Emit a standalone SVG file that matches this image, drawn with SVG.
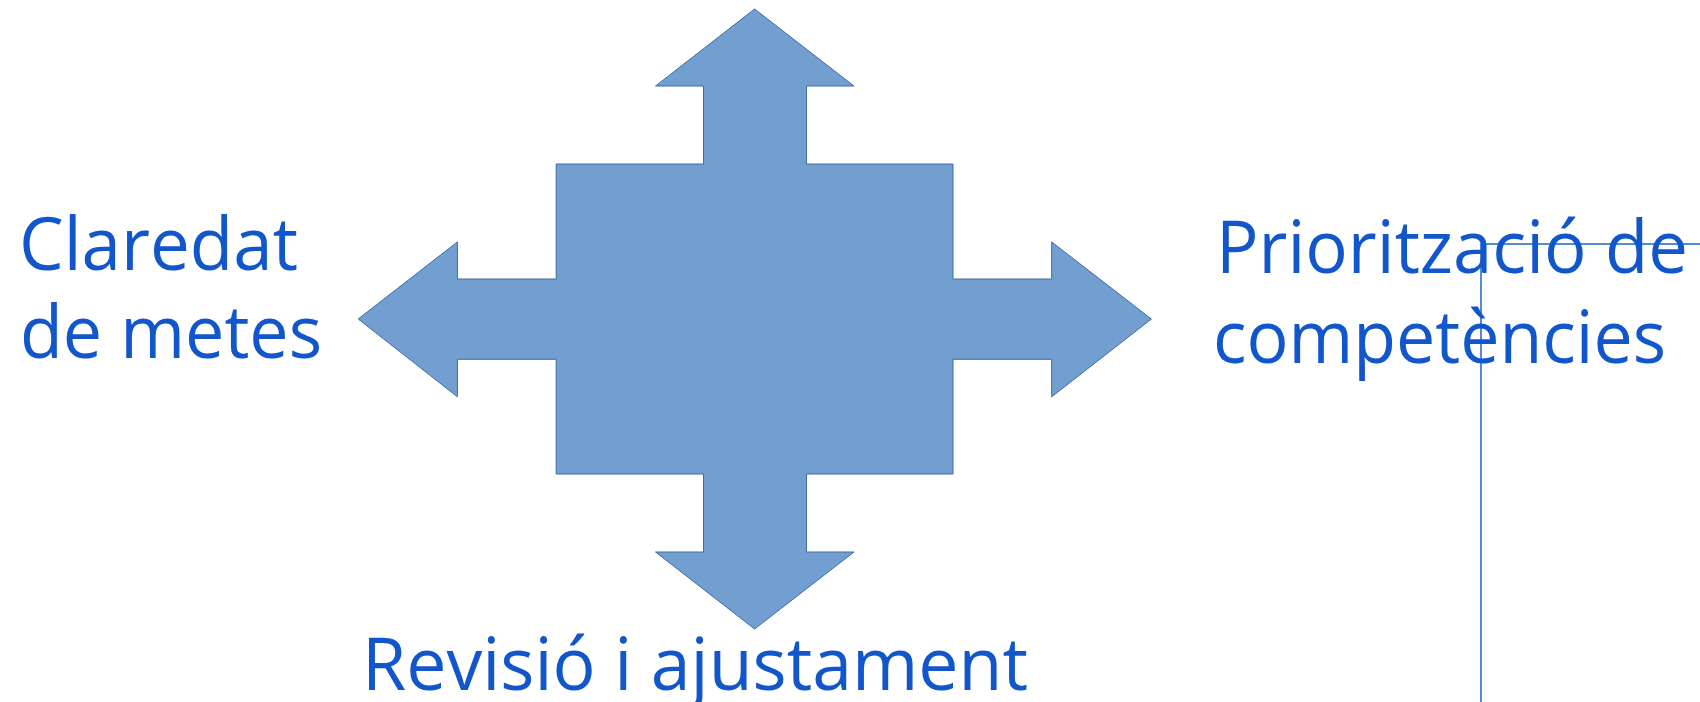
<svg xmlns="http://www.w3.org/2000/svg" width="1700" height="702" viewBox="0 0 1700 702">
  <style>
    .lbl { font-family: "Open Sans", "Liberation Sans", sans-serif; font-size: 73px; fill: #1256CC; }
    .shape { fill: #729FCF; stroke: #3F6CA6; stroke-width: 1; stroke-linejoin: miter; }
    .conn { fill: none; stroke: #1A66C8; stroke-width: 1.5; }
  </style>
  <rect width="1700" height="702" fill="#FFFFFF"/>
  <g id="connectors">
    <line class="conn" x1="1486" y1="244" x2="1700" y2="244"/>
    <line class="conn" x1="1481" y1="244" x2="1481" y2="702"/>
  </g>
  <g id="quad-arrow">
    <polygon class="shape" points="754.6,9 854,86 806.5,86 806.5,164 953,164 953,279 1051.7,279 1051.7,241.9 1151.4,319 1051.7,396.8 1051.7,359.3 953,359.3 953,474 806.5,474 806.5,552 854,552 754.6,629 655.5,552 703.5,552 703.5,474 556.2,474 556.2,359.3 457.4,359.3 457.4,396.8 358.2,319 457.4,241.9 457.4,279 556.2,279 556.2,164 703.5,164 703.5,86 655.5,86"/>
  </g>
  <g id="label-left">
    <text class="lbl" x="19" y="270" textLength="279" lengthAdjust="spacingAndGlyphs">Claredat</text>
    <text class="lbl" x="20" y="358" textLength="302" lengthAdjust="spacingAndGlyphs">de metes</text>
  </g>
  <g id="label-right">
    <text class="lbl" x="1216" y="273" textLength="472" lengthAdjust="spacingAndGlyphs">Priorització de</text>
    <text class="lbl" x="1213" y="363" textLength="453" lengthAdjust="spacingAndGlyphs">competències</text>
  </g>
  <g id="label-bottom">
    <text class="lbl" x="362" y="690" textLength="666" lengthAdjust="spacingAndGlyphs">Revisió i ajustament</text>
  </g>
</svg>
